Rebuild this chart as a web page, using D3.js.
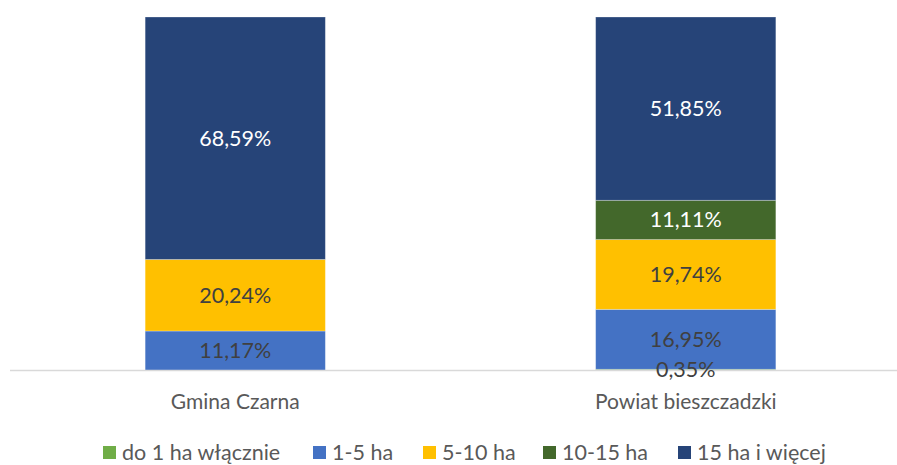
<!DOCTYPE html>
<html>
<head>
<meta charset="utf-8">
<script src="https://cdn.jsdelivr.net/npm/d3@7"></script>
<style>
  body { margin: 0; background: #fff; }
  svg { font-family: Lato, "Open Sans", sans-serif; }
</style>
</head>
<body>
<svg width="897" height="465"></svg>
<script>
    var categories = ['Gmina Czarna', 'Powiat bieszczadzki'];
    var seriesNames = ['do 1 ha włącznie', '1-5 ha', '5-10 ha', '10-15 ha', '15 ha i więcej'];
    var seriesColors = ['#70AD47', '#4472C4', '#FFC000', '#43682B', '#264478'];
    var labelColors = ['#404040', '#404040', '#404040', '#ffffff', '#ffffff'];
    // percentages per series, one value for each category
    var doJednego = [0, 0.35];
    var jedenPiec = [11.17, 16.95];
    var piecDziesiec = [20.24, 19.74];
    var dziesiecPietnascie = [0, 11.11];
    var pietnascieWiecej = [68.59, 51.85];
    var values = [doJednego, jedenPiec, piecDziesiec, dziesiecPietnascie, pietnascieWiecej];

    var svg = d3.select('svg');
    var plotTop = 17, baseY = 370.5;
    var fs = 21.5;

    var table = categories.map(function (c, i) {
        var row = { cat: c };
        seriesNames.forEach(function (s, j) { row[s] = values[j][i]; });
        return row;
    });
    var stacked = d3.stack().keys(seriesNames)(table);

    var x = d3.scaleBand().domain(categories).range([10, 911]).paddingInner(0.6).paddingOuter(0.3);
    var y = d3.scaleLinear().domain([0, 100]).range([baseY, plotTop]);

    var layers = svg.append('g').selectAll('g')
        .data(stacked)
        .join('g')
        .attr('fill', function (d, i) { return seriesColors[i]; });

    layers.selectAll('rect')
        .data(function (d) { return d; })
        .join('rect')
        .attr('x', function (d) { return x(d.data.cat); })
        .attr('width', x.bandwidth())
        .attr('y', function (d) { return y(d[1]); })
        .attr('height', function (d) { return y(d[0]) - y(d[1]); })
        .attr('stroke', '#ffffff')
        .attr('stroke-opacity', 0.35)
        .attr('stroke-width', 0.8);

    // axis baseline
    svg.append('line')
        .attr('x1', 10).attr('x2', 897)
        .attr('y1', baseY).attr('y2', baseY)
        .attr('stroke', '#d9d9d9').attr('stroke-width', 1.3);

    // data labels
    stacked.forEach(function (layer, i) {
        svg.append('g').selectAll('text')
            .data(layer.filter(function (d) { return d[1] - d[0] > 0; }))
            .join('text')
            .attr('x', function (d) { return x(d.data.cat) + x.bandwidth() / 2; })
            .attr('y', function (d) { return (y(d[0]) + y(d[1])) / 2; })
            .attr('dy', '0.35em')
            .attr('text-anchor', 'middle')
            .attr('font-size', fs)
            .attr('fill', labelColors[i])
            .text(function (d) { return (d[1] - d[0]).toFixed(2).replace('.', ',') + '%'; });
    });

    // category axis
    var xAxis = svg.append('g')
        .attr('transform', 'translate(0,' + baseY + ')')
        .call(d3.axisBottom(x).tickSize(0).tickPadding(24));
    xAxis.select('.domain').remove();
    xAxis.selectAll('text')
        .attr('font-family', 'Lato, "Open Sans", sans-serif')
        .attr('font-size', fs - 0.5)
        .attr('fill', '#595959');

    // legend
    var legendX = [103, 313, 423, 543, 678];
    var legend = svg.append('g').selectAll('g')
        .data(seriesNames)
        .join('g')
        .attr('transform', function (d, i) { return 'translate(' + legendX[i] + ',452.5)'; });
    legend.append('rect')
        .attr('x', 0).attr('y', -6.5)
        .attr('width', 13).attr('height', 13)
        .attr('fill', function (d, i) { return seriesColors[i]; });
    legend.append('text')
        .attr('x', 19)
        .attr('dy', '0.35em')
        .attr('font-size', fs)
        .attr('fill', '#595959')
        .text(function (d) { return d; });
</script>
</body>
</html>
